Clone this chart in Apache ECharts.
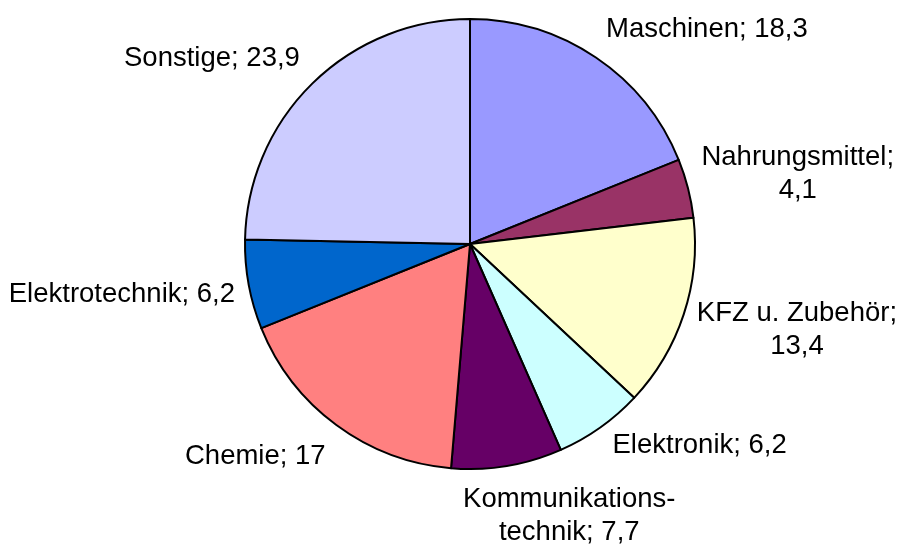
<!DOCTYPE html>
<html>
<head>
<meta charset="utf-8">
<script src="https://cdn.jsdelivr.net/npm/echarts@6/dist/echarts.min.js"></script>
<style>
  html, body { margin: 0; padding: 0; background: #fff; }
  #chart { width: 903px; height: 548px; }
</style>
</head>
<body>
<div id="chart"></div>
<script>
// Branchen und Anteile, im Uhrzeigersinn ab 12 Uhr
const names = ['Maschinen', 'Nahrungsmittel', 'KFZ u. Zubehör', 'Elektronik',
  'Kommunikations-\ntechnik', 'Chemie', 'Elektrotechnik', 'Sonstige'];
const values = [18.3, 4.1, 13.4, 6.2, 7.7, 17, 6.2, 23.9];
const colors = ['#9999FF', '#993366', '#FFFFCC', '#CCFFFF', '#660066', '#FF8080', '#0066CC', '#CCCCFF'];
// Namen, bei denen der Wert in eine neue Zeile rutscht
const breakBeforeValue = ['Nahrungsmittel', 'KFZ u. Zubehör'];

const cx = 470, cy = 244, radius = 225, gap = 18;
// kleine Korrekturen fuer die Beschriftung (dx, dy)
const labelShift = [[0, 0], [-4, -2], [-4, 0], [2, -10], [-47, 0], [0, 4], [4, 4], [0, 0]];

const total = values.reduce((a, b) => a + b, 0);
const midAngles = [];
let acc = 0;
values.forEach(v => {
  midAngles.push((acc + v / 2) / total * Math.PI * 2);
  acc += v;
});

const chart = echarts.init(document.getElementById('chart'));
chart.setOption({
  animation: false,
  series: [{
    type: 'pie',
    center: [cx, cy],
    radius: radius,
    startAngle: 90,
    clockwise: true,
    avoidLabelOverlap: false,
    data: names.map((n, i) => ({
      name: n,
      value: values[i],
      itemStyle: { color: colors[i] }
    })),
    itemStyle: { borderColor: '#000', borderWidth: 2 },
    emphasis: { disabled: true },
    labelLine: { show: false },
    label: {
      show: true,
      position: 'inside',
      color: '#000',
      fontFamily: 'Liberation Sans, Arial, sans-serif',
      fontSize: 27.5,
      lineHeight: 33,
      align: 'center',
      formatter: p => {
        const val = String(p.value).replace('.', ',');
        const sep = breakBeforeValue.includes(p.name) ? ';\n' : '; ';
        return p.name + sep + val;
      }
    },
    labelLayout: p => {
      const a = midAngles[p.dataIndex];
      const s = Math.sin(a), c = Math.cos(a);
      const px = cx + (radius + gap) * s;
      const py = cy - (radius + gap) * c;
      const w = p.labelRect.width, h = p.labelRect.height;
      const sh = labelShift[p.dataIndex];
      return {
        x: px + (s >= 0 ? w / 2 : -w / 2) + sh[0],
        y: py - c * h / 2 + sh[1],
        align: 'center',
        verticalAlign: 'middle'
      };
    }
  }]
});
</script>
</body>
</html>
